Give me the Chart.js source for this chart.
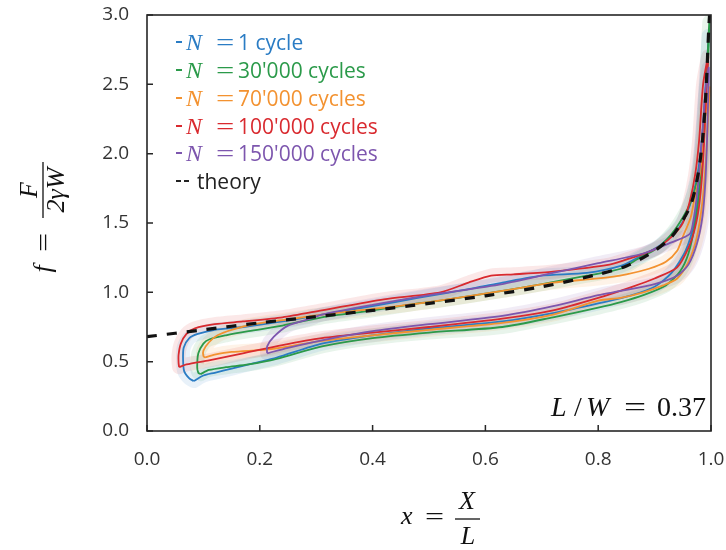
<!DOCTYPE html>
<html><head><meta charset="utf-8">
<script src="https://cdn.jsdelivr.net/npm/chart.js@4.4.1/dist/chart.umd.min.js"></script>
<style>html,body{margin:0;padding:0;background:#fff;}#wrap{width:726px;height:550px;}</style>
</head><body><div id="wrap"><canvas id="c" width="726" height="550"></canvas></div>
<script>
// ---- data (x = X/L, f = F/(2γW)) ----
const seriesNames = ['1 cycle', "30'000 cycles", "70'000 cycles", "100'000 cycles", "150'000 cycles"];
const seriesColors = ['#2a7cc4', '#2b9a4a', '#f39230', '#d92a2f', '#7d56ae'];
const curveN1 = [[0.083,0.36],[0.10,0.40],[0.12,0.42],[0.15,0.45],[0.19,0.49],[0.23,0.53],[0.31,0.63],[0.40,0.69],[0.50,0.74],[0.63,0.79],[0.72,0.85],[0.80,0.92],[0.86,0.98],[0.90,1.04],[0.93,1.14],[0.955,1.30],[0.97,1.50],[0.98,1.80],[0.988,2.2],[0.993,2.6],[0.996,2.85],
  [0.992,2.6],[0.986,2.2],[0.978,1.9],[0.968,1.70],[0.955,1.55],[0.94,1.45],[0.91,1.34],[0.87,1.25],[0.84,1.19],[0.78,1.14],[0.70,1.12],[0.63,1.07],[0.58,1.03],[0.48,0.96],[0.40,0.90],[0.31,0.84],[0.24,0.79],[0.17,0.75],[0.12,0.73],[0.09,0.70],[0.075,0.67],[0.065,0.60],[0.064,0.51],[0.066,0.43],[0.075,0.38],[0.083,0.36]];
const curveN30k = [[0.095,0.41],[0.11,0.44],[0.14,0.46],[0.18,0.48],[0.23,0.52],[0.31,0.61],[0.40,0.67],[0.50,0.71],[0.63,0.75],[0.72,0.82],[0.80,0.89],[0.84,0.93],[0.88,0.98],[0.92,1.05],[0.945,1.15],[0.96,1.28],[0.972,1.50],[0.98,1.75],[0.987,2.1],[0.992,2.5],[0.995,2.8],[0.997,2.95],
  [0.995,2.7],[0.99,2.4],[0.983,2.0],[0.975,1.8],[0.965,1.66],[0.95,1.54],[0.93,1.42],[0.905,1.32],[0.87,1.24],[0.84,1.17],[0.78,1.12],[0.70,1.06],[0.63,1.01],[0.52,0.94],[0.48,0.92],[0.40,0.87],[0.31,0.82],[0.24,0.76],[0.18,0.72],[0.14,0.69],[0.11,0.66],[0.10,0.63],[0.091,0.56],[0.089,0.46],[0.091,0.42],[0.095,0.41]];
const curveN70k = [[0.103,0.53],[0.12,0.55],[0.15,0.57],[0.22,0.59],[0.31,0.65],[0.40,0.69],[0.50,0.73],[0.63,0.78],[0.72,0.84],[0.80,0.94],[0.84,0.96],[0.88,1.00],[0.915,1.05],[0.94,1.10],[0.96,1.22],[0.975,1.40],[0.985,1.66],[0.99,1.9],[0.993,2.1],[0.996,2.35],[0.998,2.48],
  [0.993,2.4],[0.987,2.1],[0.98,1.85],[0.97,1.66],[0.964,1.54],[0.95,1.40],[0.94,1.30],[0.92,1.22],[0.89,1.17],[0.85,1.13],[0.80,1.10],[0.72,1.07],[0.63,1.01],[0.50,0.93],[0.40,0.88],[0.31,0.84],[0.24,0.80],[0.19,0.77],[0.15,0.73],[0.125,0.69],[0.11,0.64],[0.10,0.58],[0.10,0.54],[0.103,0.53]];
const curveN100k = [[0.057,0.46],[0.07,0.48],[0.11,0.51],[0.17,0.56],[0.24,0.62],[0.31,0.67],[0.40,0.71],[0.50,0.75],[0.63,0.81],[0.72,0.87],[0.80,0.96],[0.86,1.04],[0.90,1.10],[0.94,1.18],[0.96,1.32],[0.972,1.47],[0.98,1.66],[0.986,1.95],[0.99,2.3],[0.993,2.55],[0.995,2.7],
  [0.986,2.5],[0.979,2.1],[0.972,1.85],[0.962,1.65],[0.95,1.50],[0.93,1.40],[0.90,1.31],[0.86,1.25],[0.82,1.20],[0.72,1.15],[0.65,1.13],[0.61,1.12],[0.57,1.07],[0.52,1.00],[0.42,0.95],[0.31,0.87],[0.24,0.82],[0.17,0.79],[0.12,0.77],[0.085,0.74],[0.07,0.70],[0.06,0.63],[0.056,0.55],[0.056,0.49],[0.057,0.46]];
const curveN150k = [[0.213,0.56],[0.25,0.60],[0.33,0.67],[0.40,0.72],[0.50,0.77],[0.63,0.83],[0.72,0.90],[0.80,0.98],[0.84,1.01],[0.90,1.06],[0.94,1.12],[0.96,1.20],[0.975,1.35],[0.985,1.55],[0.99,1.8],[0.993,2.1],[0.995,2.4],[0.996,2.62],
  [0.99,2.45],[0.982,2.0],[0.975,1.7],[0.968,1.5],[0.962,1.42],[0.93,1.36],[0.88,1.28],[0.80,1.21],[0.72,1.14],[0.63,1.06],[0.50,0.98],[0.40,0.91],[0.31,0.84],[0.29,0.81],[0.25,0.76],[0.225,0.68],[0.213,0.61],[0.213,0.56]];
const theoryCurve = [[0.0,0.68],[0.1,0.73],[0.2,0.78],[0.3,0.825],[0.4,0.87],[0.5,0.92],[0.6,0.975],[0.7,1.04],[0.8,1.13],[0.85,1.19],[0.9,1.30],[0.93,1.40],[0.95,1.52],[0.965,1.64],[0.977,1.85],[0.985,2.1],[0.991,2.44],[0.996,2.9],[0.999,3.1]];
const xTicks = [0.0, 0.2, 0.4, 0.6, 0.8, 1.0];
const yTicks = [0.0, 0.5, 1.0, 1.5, 2.0, 2.5, 3.0];
const annotationText = ['L', '/', 'W', '=', '0.37'];

const curves = [curveN1, curveN30k, curveN70k, curveN100k, curveN150k];
const toXY = arr => arr.map(p => ({x: p[0], y: p[1]}));
function rgba(hex, a) {
  const n = parseInt(hex.slice(1), 16);
  return `rgba(${n >> 16},${(n >> 8) & 255},${n & 255},${a})`;
}
const datasets = [];
curves.forEach((c, i) => datasets.push({
  label: 'band' + i, data: toXY(c), showLine: true, pointRadius: 0, borderColor: rgba(seriesColors[i], 0.11),
  borderWidth: 14, borderCapStyle: 'round', borderJoinStyle: 'round', tension: 0.25, clip: 0, order: 20 + i
}));
curves.forEach((c, i) => datasets.push({
  label: seriesNames[i], data: toXY(c), showLine: true, pointRadius: 0, borderColor: seriesColors[i],
  borderWidth: 1.8, tension: 0.25, clip: 0, order: 5 - i
}));
datasets.push({label: 'theory', data: toXY(theoryCurve), showLine: true, pointRadius: 0, borderColor: '#111',
  borderWidth: 3.2, borderDash: [10, 10], tension: 0.3, clip: 0, order: 0});

const tickFont = {family: "'Open Sans', sans-serif", size: 19};
const MATH = "'Liberation Serif', 'DejaVu Serif', serif";

function wideEq(ctx, x, y, size, sx) {
  ctx.save();
  ctx.translate(x, y); ctx.scale(sx, 1);
  ctx.font = size + 'px ' + MATH; ctx.textAlign = 'left';
  ctx.fillText('=', 0, 0);
  ctx.restore();
}

const decor = {
  id: 'decor',
  afterDraw(chart) {
    const ctx = chart.ctx, a = chart.chartArea, xs = chart.scales.x, ys = chart.scales.y;
    ctx.save();
    // inward ticks
    ctx.strokeStyle = '#262626'; ctx.lineWidth = 1.5;
    ctx.beginPath();
    xTicks.forEach(v => { const p = xs.getPixelForValue(v); ctx.moveTo(p, a.bottom); ctx.lineTo(p, a.bottom - 6); });
    yTicks.forEach(v => { const p = ys.getPixelForValue(v); ctx.moveTo(a.left, p); ctx.lineTo(a.left + 6, p); });
    ctx.stroke();
    // frame
    ctx.lineWidth = 1.6;
    ctx.strokeRect(a.left, a.top, a.right - a.left, a.bottom - a.top);
    // legend
    const rows = [42, 70, 98, 126, 153, 181];
    ctx.textBaseline = 'alphabetic';
    seriesNames.forEach((name, i) => {
      const y = rows[i], col = seriesColors[i];
      ctx.strokeStyle = col; ctx.fillStyle = col; ctx.lineWidth = 2;
      ctx.beginPath(); ctx.moveTo(176, y); ctx.lineTo(182, y); ctx.stroke();
      ctx.font = 'italic 24px ' + MATH; ctx.textAlign = 'left';
      ctx.fillText('N', 186, y + 8);
      wideEq(ctx, 216, y + 8, 24, 1.35);
      ctx.font = "21px 'Open Sans', sans-serif";
      ctx.fillText(name, 238, y + 8);
    });
    const ty = rows[5];
    ctx.strokeStyle = '#222'; ctx.fillStyle = '#222'; ctx.lineWidth = 2;
    ctx.beginPath(); ctx.moveTo(176, ty); ctx.lineTo(181, ty); ctx.moveTo(184, ty); ctx.lineTo(189, ty); ctx.stroke();
    ctx.font = "21px 'Open Sans', sans-serif";
    ctx.fillText('theory', 197, ty + 8);
    // annotation L/W = 0.37
    ctx.fillStyle = '#111';
    ctx.font = 'italic 28px ' + MATH;
    ctx.fillText(annotationText[0], 551, 416);
    ctx.font = '28px ' + MATH;
    ctx.fillText(annotationText[1], 574, 416);
    ctx.font = 'italic 28px ' + MATH;
    ctx.fillText(annotationText[2], 586, 416);
    wideEq(ctx, 624, 416, 28, 1.4);
    ctx.font = '28px ' + MATH;
    ctx.fillText(annotationText[4], 657, 416);
    // x axis title: x = X / L
    ctx.font = 'italic 26px ' + MATH;
    ctx.fillText('x', 401, 524);
    wideEq(ctx, 425, 525, 26, 1.3);
    ctx.lineWidth = 1.3; ctx.strokeStyle = '#111';
    ctx.beginPath(); ctx.moveTo(455, 519); ctx.lineTo(480, 519); ctx.stroke();
    ctx.font = 'italic 26px ' + MATH; ctx.textAlign = 'center';
    ctx.fillText('X', 467, 509);
    ctx.fillText('L', 468, 544);
    // y axis title: f = F / (2γW), rotated
    ctx.translate(43, 190);
    ctx.rotate(-Math.PI / 2);
    ctx.textAlign = 'center';
    ctx.beginPath(); ctx.moveTo(-28, 0); ctx.lineTo(28, 0); ctx.stroke();
    ctx.font = 'italic 26px ' + MATH;
    ctx.fillText('F', 0, -6);
    ctx.fillText('2γW', 0, 21);
    ctx.fillText('f', -79, 8);
    wideEq(ctx, -62, 9, 26, 1.3);
    ctx.restore();
  }
};

new Chart(document.getElementById('c'), {
  type: 'scatter',
  data: {datasets},
  options: {
    responsive: false, animation: false, events: [],
    layout: {padding: {left: 0, right: 15, top: 15, bottom: 0}},
    plugins: {legend: {display: false}, tooltip: {enabled: false}},
    scales: {
      x: {type: 'linear', min: 0, max: 1,
        afterBuildTicks: s => { s.ticks = xTicks.map(v => ({value: v})); },
        afterFit: s => { s.height = 119; s.paddingLeft = 0; s.paddingRight = 0; s.paddingTop = 0; s.paddingBottom = 0; },
        ticks: {callback: v => v.toFixed(1), font: tickFont, color: '#333', padding: 17, maxRotation: 0},
        grid: {display: false, drawTicks: false}, border: {display: false}},
      y: {type: 'linear', min: 0, max: 3,
        afterBuildTicks: s => { s.ticks = yTicks.map(v => ({value: v})); },
        afterFit: s => { s.width = 147; s.paddingLeft = 0; s.paddingRight = 0; s.paddingTop = 0; s.paddingBottom = 0; },
        ticks: {callback: v => v.toFixed(1), font: tickFont, color: '#333', padding: 18},
        grid: {display: false, drawTicks: false}, border: {display: false}}
    }
  },
  plugins: [decor]
});
</script></body></html>
